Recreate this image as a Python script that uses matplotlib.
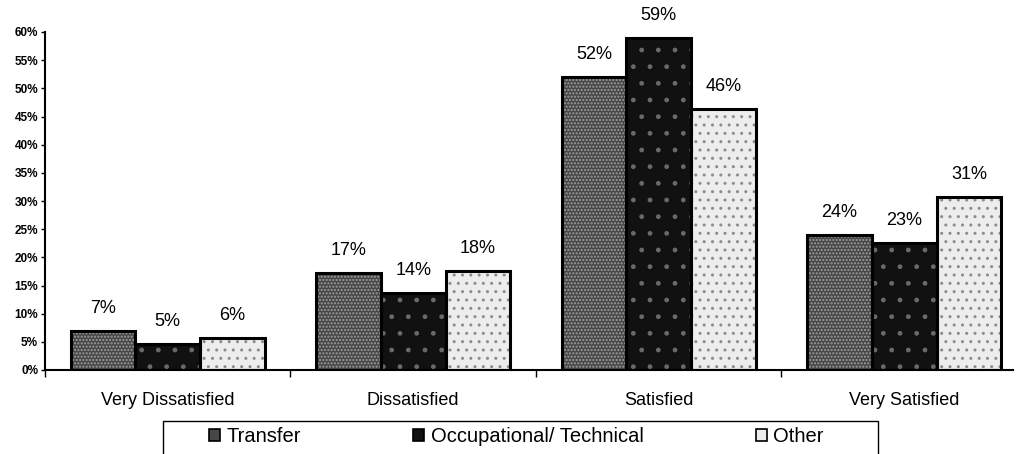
import numpy as np
import matplotlib
matplotlib.use('Agg')
import matplotlib.pyplot as plt
from matplotlib.patches import Patch, Rectangle

plt.rcParams['font.family'] = ['Liberation Sans', 'DejaVu Sans']
plt.rcParams['hatch.linewidth'] = 1.0

categories = ['Very Dissatisfied', 'Dissatisfied', 'Satisfied', 'Very Satisfied']
series = ['Transfer', 'Occupational/ Technical', 'Other']

# bar heights, labels as printed on it
transfer = [6.9, 17.3, 52.0, 24.0]
occupational = [4.6, 13.7, 59.0, 22.6]
other = [5.7, 17.6, 46.4, 30.7]

transfer_lbl = ['7%', '17%', '52%', '24%']
occupational_lbl = ['5%', '14%', '59%', '23%']
other_lbl = ['6%', '18%', '46%', '31%']

values = [transfer, occupational, other]
labels = [transfer_lbl, occupational_lbl, other_lbl]
face = ['#474747', '#111111', '#ededed']
speck = ['#a0a0a0', '#6a6a6a', '#8c8c8c']
hatches = ['.....', '.', '..']

fig = plt.figure(figsize=(10.18, 4.54), dpi=100)
ax = fig.add_axes([45 / 1018, 84 / 454, (1013 - 45) / 1018, 338 / 454])

x = np.arange(len(categories))
w = 0.264
for i in range(3):
    pos = x + (i - 1) * w
    ax.bar(pos, values[i], w, color=face[i], linewidth=0, zorder=2)
    ax.bar(pos, values[i], w, fill=False, hatch=hatches[i], edgecolor=speck[i],
           linewidth=0, zorder=3)
    ax.bar(pos, values[i], w, fill=False, edgecolor='black', linewidth=2.2, zorder=4)
    for px, v, t in zip(pos, values[i], labels[i]):
        ax.annotate(t, (px, v), xytext=(0, 16), textcoords='offset points',
                    ha='center', va='center', fontsize=13)

ax.set_xlim(-0.5, 3.443)
ax.set_ylim(0, 60)
ax.set_yticks(np.arange(0, 61, 5))
ax.set_yticklabels(['%d%%' % v for v in range(0, 61, 5)], fontsize=8.5, fontweight='bold')
ax.set_xticks([-0.5, 0.5, 1.5, 2.5])
ax.set_xticklabels([])
ax.tick_params(axis='x', direction='out', length=5, width=1)
ax.tick_params(axis='y', direction='out', length=3, width=1, pad=2)
for i, c in enumerate(categories):
    ax.text(i, -5.5, c, ha='center', va='center', fontsize=13)

for s in ['top', 'right']:
    ax.spines[s].set_visible(False)
ax.spines['left'].set_linewidth(1.5)
ax.spines['bottom'].set_linewidth(1.5)

handles = [Patch(facecolor=face[i], edgecolor='black', linewidth=1.2) for i in range(3)]
fig.legend(handles, series, loc='center left', bbox_to_anchor=(209 / 1018, 1 - 437 / 454),
           ncol=3, fontsize=14.5, frameon=False,
           handlelength=0.55, handleheight=0.55, handletextpad=0.3,
           columnspacing=5.6, borderpad=0, borderaxespad=0)
fig.patches.append(Rectangle((163 / 1018, -0.05), (878 - 163) / 1018, 1 - 421 / 454 + 0.05,
                             transform=fig.transFigure, fill=False, edgecolor='black',
                             linewidth=1.0))

fig.savefig('out.png', dpi=100)
